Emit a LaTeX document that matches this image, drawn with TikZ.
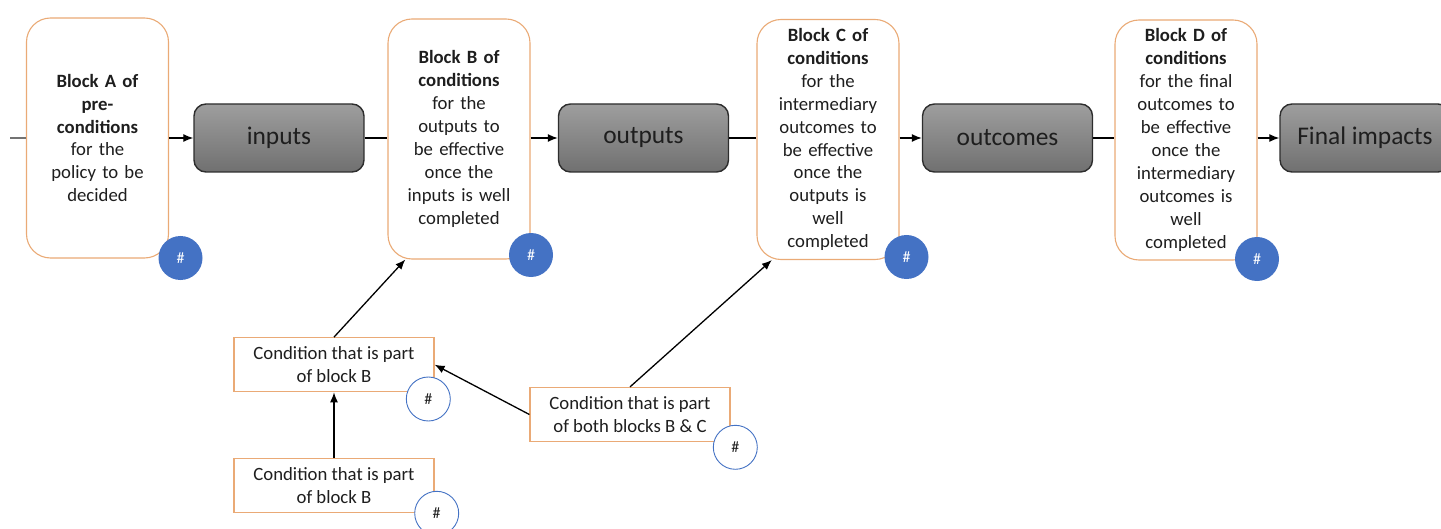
\documentclass[tikz,border=0pt]{standalone}
\usepackage{fontspec}
\setmainfont{Carlito}
\usetikzlibrary{arrows.meta}
\definecolor{borange}{RGB}{234,170,118}
\definecolor{hblue}{RGB}{68,114,196}
\definecolor{gborder}{RGB}{45,45,45}
\definecolor{gtop}{RGB}{158,158,158}
\definecolor{gbot}{RGB}{112,112,112}
\definecolor{txt}{RGB}{30,30,30}
\begin{document}
\begin{tikzpicture}[x=1bp,y=-1bp,
  block/.style={draw=borange, line width=1.1bp, rounded corners=24bp, fill=white,
    minimum width=142bp, minimum height=240bp, inner sep=1bp, align=center,
    text width=138bp, text=txt, font=\fontsize{18.8}{23}\selectfont},
  gbox/.style={draw=gborder, line width=1.4bp, rounded corners=12bp,
    top color=gtop, bottom color=gbot, minimum width=170bp, minimum height=68bp,
    inner sep=0bp, text=txt, font=\fontsize{25.5}{30}\selectfont},
  fullhash/.style={circle, fill=hblue, minimum size=44bp, inner sep=0bp,
    text=white, font=\fontsize{16}{18}\selectfont},
  openhash/.style={circle, draw=hblue, line width=0.9bp, fill=white, minimum size=44bp,
    inner sep=0bp, text=txt, font=\fontsize{16}{18}\selectfont},
  cond/.style={draw=borange, line width=1.2bp, fill=white, minimum width=200bp,
    minimum height=54bp, inner sep=1bp, align=center, text=txt,
    font=\fontsize{18.8}{23.3}\selectfont},
  arr/.style={-{Latex[length=10bp,width=8bp]}, line width=1.3bp, draw=black},
  link/.style={line width=1.2bp, draw=black}
]
\useasboundingbox (0,0) rectangle (1441,529);
\clip (0,0) rectangle (1441,529);

% condition blocks
\node[block] (A) at (97.5,138) {\textbf{Block A of}\\\textbf{pre-}\\\textbf{conditions}\\for the\\policy to be\\decided};
\node[block] (B) at (459,139) {\textbf{Block B of}\\\textbf{conditions}\\for the\\outputs to\\be effective\\once the\\inputs is well\\completed};
\node[block] (C) at (828,139.5) {\textbf{Block C of}\\\textbf{conditions}\\for the\\intermediary\\outcomes to\\be effective\\once the\\outputs is\\well\\completed};
\node[block] (D) at (1186,140) {\textbf{Block D of}\\\textbf{conditions}\\for the final\\outcomes to\\be effective\\once the\\intermediary\\outcomes is\\well\\completed};

% grey boxes
\node[gbox] (inputs) at (279,138) {inputs};
\node[gbox] (outputs) at (643.5,138) {outputs};
\node[gbox] (outcomes) at (1007.5,138) {outcomes};
\node[gbox] (final) at (1365,138) {Final impacts};

% hash markers on blocks
\node[fullhash] (hA) at (180.5,258) {\#};
\node[fullhash] (hB) at (531,255) {\#};
\node[fullhash] (hC) at (906.5,257) {\#};
\node[fullhash] (hD) at (1257,259) {\#};

% main chain
\coordinate (start) at (10,138);
\draw[link, line width=1.6bp, draw=black!55] (start) -- (start -| A.west);
\draw[arr] (A.east |- inputs.west) -- (inputs.west);
\draw[link] (inputs.east) -- (inputs.east -| B.west);
\draw[arr] (B.east |- outputs.west) -- (outputs.west);
\draw[link] (outputs.east) -- (outputs.east -| C.west);
\draw[arr] (C.east |- outcomes.west) -- (outcomes.west);
\draw[link] (outcomes.east) -- (outcomes.east -| D.west);
\draw[arr] (D.east |- final.west) -- (final.west);

% condition boxes
\node[cond] (cb1) at (334,364.7) {Condition that is part\\of block B};
\node[cond] (cb2) at (334,485.8) {Condition that is part\\of block B};
\node[cond] (cbc) at (630,414.5) {Condition that is part\\of both blocks B \& C};

\node[openhash] (h1) at (428.3,399) {\#};
\node[openhash] (h2) at (436.7,513.3) {\#};
\node[openhash] (h3) at (735.3,447.3) {\#};

% connectors
\draw[arr] (cb1.north) -- (B.246);
\draw[arr] (cbc.north) -- (C.245);
\draw[arr] (cbc.west) -- (cb1.east);
\draw[arr] (cb2.north) -- (cb1.south);
\end{tikzpicture}
\end{document}
